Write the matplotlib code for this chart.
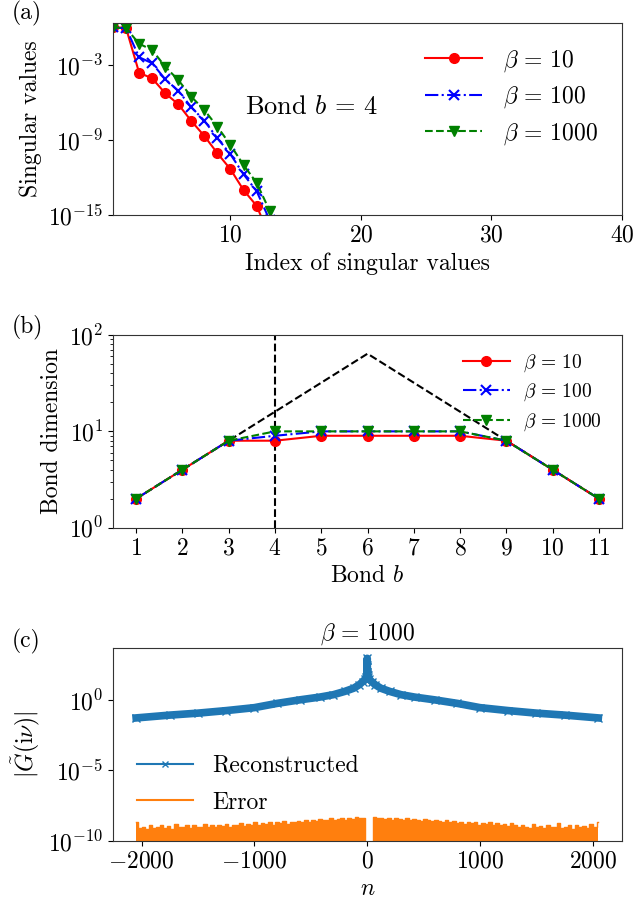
import numpy as np
import matplotlib
matplotlib.use("Agg")
import matplotlib.pyplot as plt

plt.rcParams['font.family'] = 'serif'
plt.rcParams['font.serif'] = ['cmr10']
plt.rcParams['mathtext.fontset'] = 'cm'
plt.rcParams['axes.formatter.use_mathtext'] = True
plt.rcParams['font.size'] = 17
plt.rcParams['axes.unicode_minus'] = True

# ---- (a) singular values at bond b = 4 (log10) ----
sv_index = [1, 2, 3, 4, 5, 6, 7, 8, 9, 10, 11, 12, 13, 14]
sv_b10 = [0.0, -0.05, -3.62, -4.07, -5.26, -6.14, -7.48, -8.68, -10.06, -11.34, -13.0, -14.26, -16.7, -18.0]
sv_b100 = [0.0, -0.05, -2.38, -2.86, -4.14, -5.06, -6.38, -7.46, -8.86, -10.14, -11.74, -13.08, -15.4, -17.0]
sv_b1000 = [0.0, -0.05, -1.3, -1.8, -3.14, -4.2, -5.54, -6.6, -7.94, -9.4, -11.0, -12.42, -14.65, -16.5]

# ---- (b) bond dimensions ----
bonds = [1, 2, 3, 4, 5, 6, 7, 8, 9, 10, 11]
bd_b10 = [2, 4, 8, 8, 9, 9, 9, 9, 8, 4, 2]
bd_b100 = [2, 4, 8, 9, 10, 10, 10, 10, 8, 4, 2]
bd_b1000 = [2, 4, 8, 10, 10, 10, 10, 10, 8, 4, 2]
bd_max = [2, 4, 8, 16, 32, 64, 32, 16, 8, 4, 2]

# ---- (c) reconstructed |G(i nu)| (log10) and error (log10) ----
n_rec = [-2048, -1750, -1500, -1250, -1000, -800, -600, -420, -300, -200, -120, -70, -40, -20, -10, -5, -2, -1,
         0, 1, 2, 5, 10, 20, 40, 70, 120, 200, 300, 420, 600, 800, 1000, 1250, 1500, 1750, 2048]
g_rec = [-1.28, -1.08, -0.94, -0.76, -0.55, -0.25, 0.0, 0.2, 0.37, 0.6, 0.83, 1.08, 1.3, 1.45, 1.6, 1.75, 2.0, 2.3,
         2.95, 2.3, 2.0, 1.75, 1.6, 1.45, 1.3, 1.08, 0.83, 0.6, 0.37, 0.2, 0.0, -0.25, -0.55, -0.76, -0.94, -1.08, -1.28]

n_err = np.arange(-2048, 2049, 32)
err = [-8.7, -9.1, -9.0, -9.15, -8.85, -9.1, -9.05, -8.9, -9.1, -8.95, -9.15, -8.8, -9.05, -9.0, -8.9, -9.1,
       -8.85, -9.0, -9.05, -8.8, -9.0, -8.9, -9.05, -8.85,
       -8.95, -8.8, -9.0, -8.85, -8.9, -8.75, -8.95, -8.8, -8.85, -8.7, -8.9, -8.75, -8.8, -8.65, -8.85, -8.7,
       -8.75, -8.6, -8.8, -8.65, -8.7,
       -8.6, -8.7, -8.55, -8.65, -8.5, -8.6, -8.45, -8.55, -8.5, -8.4, -8.55, -8.45, -8.4, -8.5, -8.35, -8.45,
       -8.3, -8.4,
       -8.35, -10.5, -10.5,
       -8.3, -8.4, -8.35, -8.45, -8.4, -8.5, -8.35, -8.45, -8.5, -8.4, -8.55, -8.45, -8.5, -8.6, -8.45, -8.55,
       -8.6, -8.5,
       -8.6, -8.65, -8.55, -8.7, -8.6, -8.75, -8.65, -8.8, -8.7, -8.75, -8.65, -8.85, -8.75, -8.8, -8.7, -8.9,
       -8.75, -8.85, -8.8, -8.95, -8.75,
       -8.9, -9.05, -8.85, -9.0, -9.1, -8.8, -9.05, -8.95, -9.1, -8.85, -9.05, -9.0, -8.75, -9.1, -9.0, -8.9,
       -9.15, -8.85, -9.05, -8.95, -9.1, -8.8, -9.05, -8.7]

labels = [r'$\beta\,=\,10$', r'$\beta\,=\,100$', r'$\beta\,=\,1000$']

fig = plt.figure(figsize=(6.36, 9.05), dpi=100)
L, W = 0.1777, 0.8003
ax1 = fig.add_axes([L, 0.7624, W, 0.2122])
ax2 = fig.add_axes([L, 0.4169, W, 0.2129])
ax3 = fig.add_axes([L, 0.0710, W, 0.2126])

# (a)
ax1.semilogy(sv_index, 10.0 ** np.array(sv_b10), '-', color='red', marker='o', ms=7, lw=1.5, label=labels[0])
ax1.semilogy(sv_index, 10.0 ** np.array(sv_b100), '-.', color='blue', marker='x', ms=7, mew=1.5, lw=1.5, label=labels[1])
ax1.semilogy(sv_index, 10.0 ** np.array(sv_b1000), '--', color='green', marker='v', ms=7, lw=1.5, label=labels[2])
ax1.set_xlim(1, 40)
ax1.set_ylim(1e-15, 10 ** 0.36)
ax1.set_yticks([1e-15, 1e-9, 1e-3])
ax1.yaxis.set_minor_locator(matplotlib.ticker.NullLocator())
ax1.set_xticks([10, 20, 30, 40])
ax1.set_xlabel('Index of singular values')
ax1.set_ylabel('Singular values')
ax1.text(0.39, 0.56, r'Bond $b\,=\,4$', transform=ax1.transAxes, ha='center', va='center', fontsize=19)
ax1.legend(loc='upper right', frameon=False, fontsize=17, handlelength=2.4, labelspacing=0.45,
           handletextpad=0.9, bbox_to_anchor=(0.995, 0.98))

# (b)
ax2.semilogy(bonds, bd_max, '--', color='black', lw=1.5, zorder=1)
ax2.axvline(4, color='black', ls='--', lw=1.5, zorder=1)
ax2.semilogy(bonds, bd_b10, '-', color='red', marker='o', ms=7, lw=1.5, label=labels[0])
ax2.semilogy(bonds, bd_b100, '-.', color='blue', marker='x', ms=7, mew=1.5, lw=1.5, label=labels[1])
ax2.semilogy(bonds, bd_b1000, '--', color='green', marker='v', ms=7, lw=1.5, label=labels[2])
ax2.set_xlim(0.5, 11.5)
ax2.set_ylim(1, 100)
ax2.set_xticks(bonds)
ax2.set_xlabel(r'Bond $b$')
ax2.set_ylabel('Bond dimension')
ax2.legend(loc='upper right', frameon=False, fontsize=14, handlelength=2.4, labelspacing=0.4,
           handletextpad=0.7, bbox_to_anchor=(0.995, 1.0))

# (c)
ax3.semilogy(n_rec, 10.0 ** np.array(g_rec), '-', color='#1f77b4', marker='x', ms=6, lw=5.5,
             solid_joinstyle='round', label='Reconstructed')
ax3.fill_between(n_err, 1e-12, 10.0 ** np.array(err), step='mid', color='#ff7f0e', lw=0)
ax3.plot(n_err, 10.0 ** np.array(err), drawstyle='steps-mid', color='#ff7f0e', lw=1, label='Error')
ax3.set_xlim(-2253, 2258)
ax3.set_ylim(1e-10, 10 ** 3.66)
ax3.set_yticks([1e-10, 1e-5, 1e0])
ax3.yaxis.set_minor_locator(matplotlib.ticker.NullLocator())
ax3.set_xticks([-2000, -1000, 0, 1000, 2000])
ax3.set_xlabel(r'$n$')
ax3.set_ylabel(r'$|\tilde{G}(\mathrm{i}\nu)|$')
ax3.set_title(r'$\beta\,=\,1000$', fontsize=17, pad=6)
leg = ax3.legend(loc='lower left', frameon=False, fontsize=17, handlelength=2.4, labelspacing=0.62,
                 handletextpad=0.8, bbox_to_anchor=(0.005, 0.03))
leg.legend_handles[0].set_linewidth(1.5)
leg.legend_handles[0].set_markersize(4)
leg.legend_handles[1].set_linewidth(1.5)

for ax in (ax1, ax2, ax3):
    for s in ax.spines.values():
        s.set_color('0.2')

fig.text(0.018, 0.985, '(a)', fontsize=17, va='center')
fig.text(0.018, 0.638, '(b)', fontsize=17, va='center')
fig.text(0.018, 0.291, '(c)', fontsize=17, va='center')

fig.savefig('out.png', dpi=100)
